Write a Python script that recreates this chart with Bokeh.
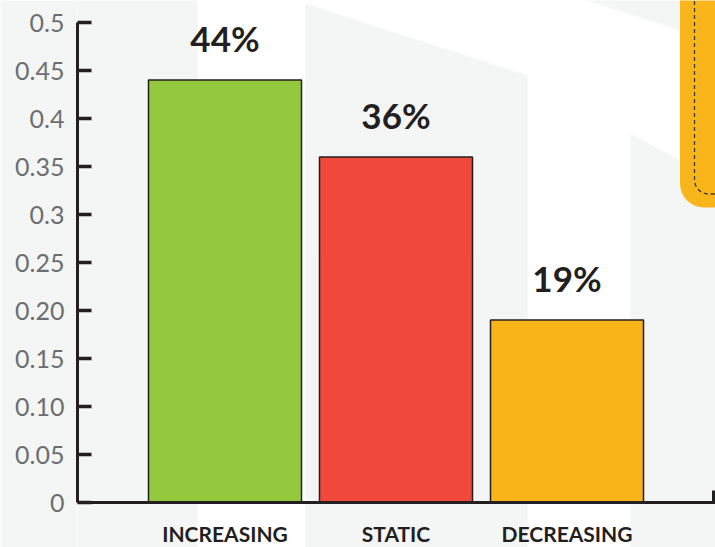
from bokeh.plotting import figure
from bokeh.models import Range1d, LinearAxis, FixedTicker, ColumnDataSource
from bokeh.core.properties import value
from bokeh.embed import file_html
from bokeh.resources import INLINE

# ---- data ----
categories = ["INCREASING", "STATIC", "DECREASING"]
shares = [0.44, 0.36, 0.19]
bar_colors = ["#94c83d", "#f0493b", "#f9b418"]
tick_values = [0, 0.05, 0.10, 0.15, 0.20, 0.25, 0.3, 0.35, 0.4, 0.45, 0.5]
tick_labels = ["0", "0.05", "0.10", "0.15", "0.20", "0.25", "0.3", "0.35", "0.4", "0.45", "0.5"]

INK = "#231f20"
GREY_BG = "#f4f5f5"
ORANGE = "#f9b51a"

# pixel geometry -> data helpers (for background decoration only)
PX_PER_CAT = 171.0
CX0 = 224.5
PX_PER_UNIT = 960.0
Y0PX = 502.0
def dx(px):
    return (px - CX0) / PX_PER_CAT
def dy(py):
    return (Y0PX - py) / PX_PER_UNIT

idx = list(range(len(categories)))
src = ColumnDataSource(dict(
    x=idx, top=shares, color=bar_colors, cat=categories,
    lab=[f"{round(v * 100)}%" for v in shares],
))

p = figure(width=715, height=547, output_backend="svg", toolbar_location=None,
           x_range=Range1d(dx(77), dx(715)), y_range=Range1d(dy(547), dy(0)),
           x_axis_location=None, min_border_left=77, min_border_right=0,
           min_border_top=0, min_border_bottom=0)
p.outline_line_color = None
p.background_fill_color = "white"
p.border_fill_color = GREY_BG
p.xgrid.visible = False
p.ygrid.visible = False

# background decoration
p.quad(left=dx(60), right=dx(197), bottom=dy(560), top=dy(-10), fill_color=GREY_BG, line_color=None)
p.patch(x=[dx(305), dx(527), dx(527), dx(305)], y=[dy(3), dy(75), dy(560), dy(560)],
        fill_color=GREY_BG, line_color=None)
p.patch(x=[dx(630), dx(720), dx(720), dx(630)], y=[dy(133), dy(182), dy(560), dy(560)],
        fill_color=GREY_BG, line_color=None)
p.patch(x=[dx(587), dx(720), dx(720)], y=[dy(0), dy(43), dy(-5)],
        fill_color=GREY_BG, line_color=None)
p.quad(left=dx(679.5), right=dx(800), bottom=dy(207), top=dy(-100), fill_color=ORANGE,
       line_color=None, border_radius=24)
p.quad(left=dx(694), right=dx(780), bottom=dy(193.5), top=dy(-80), fill_color=None,
       line_color="#3a3a3a", line_width=1.3, line_dash="4 3", border_radius=14)

# bars
p.vbar(x="x", top="top", bottom=0, width=153 / 171, source=src, fill_color="color",
       line_color=INK, line_width=1.5)

# value labels
p.text(x="x", y="top", text="lab", source=src, text_align="center", text_baseline="alphabetic",
       y_offset=-42, text_font=value("Lato"), text_font_style="bold", text_font_size="35px",
       text_color=INK)

# right end tick of x axis line
p.segment(x0=dx(713), x1=dx(713), y0=0, y1=12 / 960, line_color=INK, line_width=3)

# y axis
ya = p.yaxis[0]
ya.ticker = FixedTicker(ticks=tick_values)
ya.major_label_overrides = {v: l for v, l in zip(tick_values, tick_labels)}
ya.bounds = (0, 0.5)
ya.axis_line_color = INK
ya.axis_line_width = 3
ya.major_tick_in = 14
ya.major_tick_out = 0
ya.major_tick_line_color = INK
ya.major_tick_line_width = 3.5
ya.minor_tick_line_color = None
ya.major_label_text_font = "Lato"
ya.major_label_text_font_size = "25px"
ya.major_label_text_color = "#6d6e71"
ya.major_label_standoff = 13

# x axis drawn at y = 0
xa = LinearAxis(fixed_location=0)
xa.ticker = FixedTicker(ticks=idx)
xa.major_label_overrides = {i: c for i, c in zip(idx, categories)}
xa.axis_line_color = INK
xa.axis_line_width = 3
xa.major_tick_in = 0
xa.major_tick_out = 0
xa.minor_tick_line_color = None
xa.major_label_text_font = "Lato"
xa.major_label_text_font_style = "bold"
xa.major_label_text_font_size = "21px"
xa.major_label_text_color = INK
xa.major_label_standoff = 18
p.add_layout(xa, "below")

open("out.html", "w").write(file_html(p, INLINE))
